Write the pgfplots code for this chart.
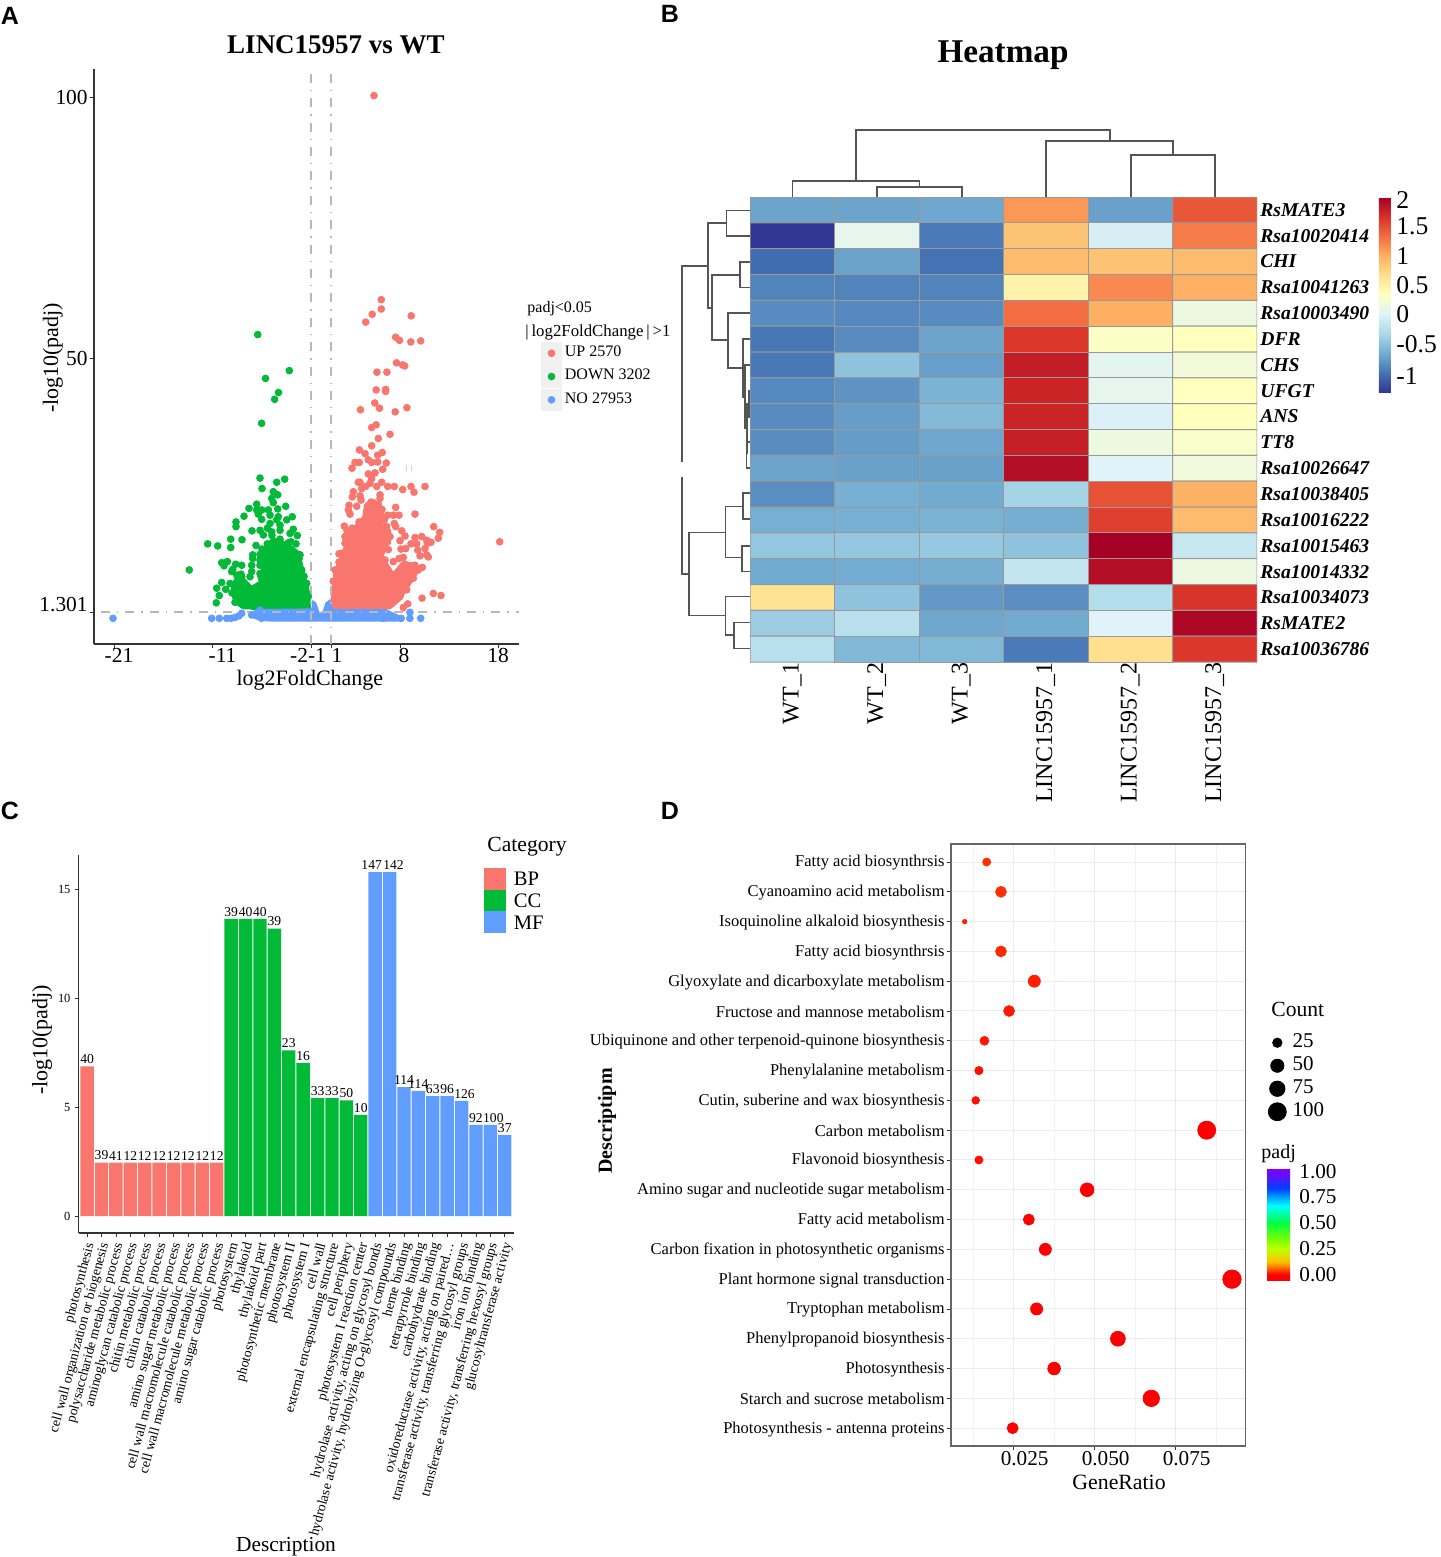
\documentclass[border=0pt]{standalone}
\usepackage{fontspec}
\usepackage{pgfplots}
\pgfplotsset{compat=1.18}
\setmainfont{Liberation Serif}
\newfontfamily\panelfont{Liberation Sans}
\newcommand{\fs}[1]{\fontsize{#1}{#1}\selectfont}
\definecolor{upred}{HTML}{F8766D}
\definecolor{downgreen}{HTML}{00BA38}
\definecolor{noblue}{HTML}{619CFF}
\definecolor{spine}{HTML}{333333}
\definecolor{refline}{HTML}{B8B8B8}
\definecolor{dend}{HTML}{555555}
\pgfplotsset{
  /pgf/number format/assume math mode=true,
  every axis/.append style={scale only axis},
  cleanaxis/.style={
    axis x line=bottom, axis y line=left,
    axis line style={-,spine,line width=0.6pt},
    tick style={spine,line width=0.4pt},
    tick align=outside, major tick length=2pt,
  },
  legendbox/.style={
    legend cell align=left,
    legend style={draw=none,fill=none,inner sep=0pt,outer sep=0pt,row sep=0pt,
      /tikz/every even column/.style={column sep=0pt},
      nodes={inner ysep=0pt,inner xsep=1.5pt,text height=7pt,text depth=#1}},
  },
  refdash/.style={refline,line width=1pt,dash pattern=on 4.5pt off 3.5pt on 0.7pt off 3.5pt,forget plot},
}
\newcommand{\seg}[1]{\addplot[dend,line width=0.7pt,forget plot] coordinates {#1};}
\newcommand{\keydot}[1]{\addlegendimage{legend image code/.code={\fill[gray!12] (0pt,-5pt) rectangle (10pt,5.75pt);\fill[#1] (5pt,0.4pt) circle (1.7pt);}}}
\newcommand{\keysq}[1]{\addlegendimage{legend image code/.code={\fill[#1] (0pt,-5.25pt) rectangle (10.5pt,5.25pt);}}}
\newcommand{\keysize}[1]{\addlegendimage{legend image code/.code={\fill[black] (5pt,0pt) circle (#1pt);}}}
\begin{document}
\begin{tikzpicture}
\useasboundingbox (0pt,0pt) rectangle (720pt,-778.5pt);

% page sized helper axis, one unit is one pixel of the reference
\begin{axis}[at={(0pt,-778.5pt)},anchor=south west,width=720pt,height=778.5pt,
  xmin=0,xmax=1440,ymin=0,ymax=1557,y dir=reverse,hide axis,clip=false]
  % column tree
  \seg{(792.4,197)(792.4,181)(919.6,181)(919.6,187)}
  \seg{(877,197)(877,187)(962,187)(962,197)}
  \seg{(856,181)(856,130)(1110,130)(1110,141)}
  \seg{(1046,197)(1046,141)(1173,141)(1173,155)}
  \seg{(1131,197)(1131,155)(1215,155)(1215,197)}
  % row tree
  \seg{(708,266)(682,266)(682,462)}
  \seg{(682,477)(682,574)(689,574)}
  \seg{(726.5,223)(708,223)(708,308)(712,308)}
  \seg{(750,210.7)(726.5,210.7)(726.5,236)(750,236)}
  \seg{(740,275)(712,275)(712,340)(728,340)}
  \seg{(750,262)(740,262)(740,287.5)(750,287.5)}
  \seg{(750,313)(728,313)(728,368)(743,368)}
  \seg{(750,339)(743,339)(743,397)(745,397)}
  \seg{(750,365)(745,365)(745,428)(747,428)}
  \seg{(749,404)(747,404)(747,453)(746.5,453)}
  \seg{(750,391)(749,391)(749,417)(750,417)}
  \seg{(750,442)(746.5,442)(746.5,468)(750,468)}
  \seg{(725.5,532.7)(689,532.7)(689,615.7)(725.5,615.7)}
  \seg{(743,506.7)(725.5,506.7)(725.5,557.7)(742,557.7)}
  \seg{(750,493)(743,493)(743,519)(750,519)}
  \seg{(750,546)(742,546)(742,571.7)(750,571.7)}
  \seg{(750,596.7)(725.5,596.7)(725.5,635)(734,635)}
  \seg{(750,622.7)(734,622.7)(734,648.7)(750,648.7)}
  % panel letters and free text
  \node[font=\panelfont\bfseries\fs{12.5}] at (10,16) {A};
  \node[font=\panelfont\bfseries\fs{12.5}] at (670,14) {B};
  \node[font=\panelfont\bfseries\fs{12.5}] at (10,811) {C};
  \node[font=\panelfont\bfseries\fs{12.5}] at (670,811) {D};
  \node[font=\bfseries\fs{13.5}] at (336,45) {LINC15957 vs WT};
  \node[font=\bfseries\fs{16.6}] at (1003,55) {Heatmap};
  \node[font=\fs{8},anchor=west,inner sep=0pt] at (527,309) {padj<0.05};
  \node[font=\fs{8.4},anchor=west,inner sep=0pt] at (525,332) {|\,log2FoldChange\,|\,>1};
  \node[font=\fs{10.8},anchor=west,inner sep=0pt] at (487,847) {Category};
  \node[font=\fs{10.8},anchor=west,inner sep=0pt] at (1271,1009) {Count};
  \node[font=\fs{10},anchor=west,inner sep=0pt] at (1261,1154) {padj};
\end{axis}

% A: volcano plot
\begin{axis}[cleanaxis,legendbox=4.4pt,at={(47pt,-322pt)},anchor=south west,
  width=212.5pt,height=287.5pt,
  xmin=-22.7,xmax=19.8,ymin=-4.79,ymax=105.4,
  xtick={-20.7,-10.85,1,7.9,17.7},
  xticklabels={-21\hspace*{1pt},\hspace*{4pt}-11,1,8\hspace*{2pt},18\hspace*{6pt}},
  extra x ticks={-1},extra x tick labels={-2-1},
  extra x tick style={xticklabel style={xshift=-4.5pt}},
  ytick={1.301,50,100},yticklabels={\raisebox{8pt}{1.301},50,100},
  tick label style={font=\fs{10.7}},
  yticklabel style={inner xsep=1pt},
  xticklabel style={xshift=3pt,yshift=3.5pt},
  xlabel={log2FoldChange},ylabel={-log10(padj)},
  label style={font=\fs{11}},
  xlabel style={at={(axis description cs:0.508,-0.0635)},anchor=center},
  ylabel style={at={(axis description cs:-0.0965,0.4974)},anchor=center},
  legend style={at={(1.052,0.525)},anchor=north west,font=\fs{8}},
]
  \addplot[fill=downgreen,draw=downgreen,line width=1pt,forget plot] coordinates {
    (-1.1,1.85)(-1.17,4.92)(-1.6,8.11)(-1.93,10.66)(-2.27,12.9)(-2.93,13.86)(-3.77,14.81)(-4.77,15.45)(-5.6,14.18)
    (-5.6,10.66)(-6.27,8.11)(-6.1,7.15)(-6.93,6.19)(-7.6,7.47)(-8.43,8.11)(-8.93,6.51)(-8.77,3.96)(-8.27,2.68)(-7.77,2.04)} -- cycle;
  \addplot[fill=upred,draw=upred,line width=1pt,forget plot] coordinates {
    (1.0,2.04)(1.13,5.56)(1.33,8.75)(1.9,11.6)(2.4,13.9)(2.47,16.4)(3.4,17.7)(4.23,19.6)(4.4,21.8)(5.9,22.0)(6.23,20.2)
    (6.07,18.3)(6.9,17.0)(6.9,14.5)(6.4,13.9)(6.07,12.6)(6.57,10.7)(7.23,8.75)(8.07,10.7)(9.07,10.7)(9.9,10.0)(9.4,8.1)
    (8.73,6.2)(7.9,3.64)(6.9,2.04)} -- cycle;
  \addplot[only marks,mark=*,mark size=1.7pt,color=downgreen,forget plot] coordinates {
    (-6.33,54.5)(-3.17,47.6)(-5.55,46.1)(-4.25,43.4)(-4.64,42.1)(-5.94,37.5)
    (-6.1,27.0)(-3.63,26.8)(-4.43,26.2)(-5.9,25.0)(-4.77,24.4)(-4.33,23.8)(-4.93,23.1)(-4.77,22.3)(-6.43,22.0)(-7.2,21.2)
    (-3.53,21.6)(-5.93,20.9)(-5.27,20.9)(-6.43,20.9)(-4.33,21.1)(-6.27,20.1)(-7.7,19.7)(-5.1,19.9)(-2.87,19.6)(-5.93,19.1)
    (-4.27,19.6)(-4.43,19.0)(-3.43,19.0)(-8.5,18.6)(-8.5,17.7)(-5.1,18.3)(-4.1,18.0)(-5.37,17.4)(-6.9,16.9)(-6.1,17.0)
    (-2.77,17.2)(-4.93,16.7)(-4.1,17.0)(-5.77,16.1)(-3.1,16.4)(-2.37,16.0)(-9.03,15.3)(-7.9,15.2)(-11.33,14.4)(-10.33,14.0)
    (-9.03,13.7)(-6.5,14.1)(-2.5,14.4)(-6.83,12.3)(-6.1,12.4)(-6.83,11.6)(-6.1,11.3)(-2.1,12.3)(-9.93,10.8)(-9.37,11.0)
    (-9.7,10.2)(-8.53,10.5)(-7.93,10.3)(-6.93,10.3)(-6.1,10.3)(-8.83,9.5)(-13.17,9.4)(-8.93,9.1)(-6.93,9.1)(-9.93,7.0)
    (-10.43,5.9)(-9.53,5.7)(-10.17,4.5)(-10.47,3.1)(-8.43,8.4)(-7.93,8.1)(-6.1,8.7)(-7.1,8.1)(-7.5,2.7)(-6.77,2.4)(-9.1,6.8)
    (-2.6,12.6)(-1.93,9.4)(-1.43,6.8)(-1.27,4.3)(-3.27,14.6)(-4.1,15.3)(-5.37,14.4)(-5.6,12.3)(-5.9,13.4)(-5.8,11.0)
    (-2.2,11.5)(-1.7,8.2)(-3.0,14.8)(-4.9,16.0)(-8.9,5.0)(-8.6,3.2)(-8.0,8.6)
  };
  \addplot[only marks,mark=*,mark size=1.7pt,color=upred,forget plot] coordinates {
    (5.3,100.3)(6.03,61.2)(6.03,59.4)(5.12,58.4)(9.02,58.1)(4.47,56.9)(7.46,54.0)(7.85,53.4)(8.98,53.1)(9.97,53.3)
    (7.55,49.1)(8.15,48.7)(8.37,48.5)(5.59,47.3)(6.59,47.3)(5.51,43.9)(6.46,44.0)(6.46,43.6)(5.38,41.4)(5.85,40.4)
    (3.95,40.1)(7.42,39.7)(8.59,40.5)(5.51,37.2)(5.07,36.7)
    (5.73,34.6)(6.9,35.4)(5.07,33.2)(3.83,32.4)(4.4,31.7)(6.13,31.9)(5.67,31.4)(4.73,30.5)(3.83,30.0)(3.4,30.0)(5.67,30.1)
    (5.07,30.0)(6.53,29.9)(3.1,28.9)(6.17,28.7)(4.73,27.8)(5.4,28.0)(5.07,26.9)(3.9,26.2)(3.73,26.2)(6.07,26.2)(4.9,26.0)
    (4.47,25.4)(4.07,25.0)(5.57,25.4)(6.67,25.4)(7.33,25.4)(10.4,25.4)(8.17,24.8)(9.0,25.4)(9.3,24.3)(3.23,24.4)(3.13,23.4)
    (3.9,23.6)(5.9,23.8)(5.9,23.1)(4.0,22.8)(2.8,21.8)(3.57,21.6)(2.73,20.9)(7.47,21.4)(9.4,20.1)(2.9,20.1)(6.67,19.9)
    (7.23,19.9)(7.8,19.9)(7.33,18.3)(7.47,17.7)(2.33,17.8)(11.27,17.7)(8.07,16.9)(11.87,16.6)(8.4,15.9)(11.73,15.5)(10.07,15.8)
    (9.4,15.6)(10.57,15.1)(11.0,14.7)(7.9,15.0)(10.63,14.5)(9.0,14.4)(9.57,14.4)(10.4,13.5)(8.0,13.4)(8.47,13.5)(9.67,13.2)
    (1.8,12.5)(6.73,13.3)(10.57,12.3)(9.9,12.1)(10.73,11.9)(7.8,11.6)(8.23,11.8)(7.23,11.0)(1.8,10.9)(10.13,9.9)
    (11.23,4.9)(12.0,4.5)(10.1,4.0)(8.67,2.9)(8.23,2.2)(17.87,14.8)
    (2.4,15.8)(2.47,15.5)(3.73,17.7)(4.57,20.6)(4.73,21.8)(5.23,22.3)(5.73,22.0)(6.33,19.0)(6.57,17.7)(6.9,15.8)(5.4,19.9)
    (9.73,9.4)(9.23,7.8)(8.57,5.6)(7.9,4.3)(9.4,10.3)(8.4,10.5)(1.4,9.4)(1.23,7.2)(2.07,12.6)(2.73,14.2)(2.4,14.5)(6.07,12.9)(6.4,11.3)
    (3.1,17.4)(2.6,17.0)(3.8,18.6)(5.0,22.4)(6.1,21.0)
  };
  \addplot[noblue!40,line width=0.4pt,forget plot] coordinates {(8.55,28.2)(8.55,29.6)};
  \addplot[upred!40,line width=0.4pt,forget plot] coordinates {(9.0,28.2)(9.0,29.6)};
  \addplot[fill=noblue,draw=noblue,line width=1pt,forget plot] coordinates {
    (-6.94,1.09)(-6.29,1.72)(-0.87,1.85)(-0.78,3.32)(-0.56,3.0)(-0.22,1.09)(0.22,1.09)(0.52,3.0)(0.87,3.51)(1.08,1.72)
    (6.5,1.72)(7.81,0.45)(8.02,-0.32)(-4.77,-0.32)(-6.07,-0.19)(-6.94,0.45)} -- cycle;
  \addplot[only marks,mark=*,mark size=1.7pt,color=noblue,forget plot] coordinates {
    (-20.8,0.13)(-10.93,0.13)(-10.17,0.13)(-9.43,0.13)(-9.0,0.13)(-8.6,0.3)(-8.2,0.6)(-7.93,1.1)(-6.93,0.77)(-6.43,1.09)
    (-6.1,1.7)(-5.94,0.13)(8.89,1.28)(8.89,0.13)(9.97,0.13)(8.02,0.13)(7.46,0.3)(6.2,0.13)
  };
  \addplot[refdash] coordinates {(-22,1.301)(19.8,1.301)};
  \addplot[refdash] coordinates {(-1,-4.79)(-1,105.4)};
  \addplot[refdash] coordinates {(1,-4.79)(1,105.4)};
  \keydot{upred}\addlegendentry{UP 2570}
  \keydot{downgreen}\addlegendentry{DOWN 3202}
  \keydot{noblue}\addlegendentry{NO 27953}
\end{axis}

% B: heatmap
\begin{axis}[at={(375pt,-331pt)},anchor=south west,width=253.5pt,height=232.5pt,
  xmin=-0.5,xmax=5.5,ymin=-0.5,ymax=17.5,y dir=reverse,
  axis line style={draw=none},major tick length=0pt,
  xtick={0,...,5},xticklabels={WT\_1,WT\_2,WT\_3,LINC15957\_1,LINC15957\_2,LINC15957\_3},
  xticklabel style={rotate=90,anchor=east,font=\fs{12},inner xsep=1pt,xshift=0.8pt},
  ytick={0,...,17},yticklabel pos=right,
  yticklabels={RsMATE3,Rsa10020414,CHI,Rsa10041263,Rsa10003490,DFR,CHS,UFGT,ANS,TT8,Rsa10026647,Rsa10038405,Rsa10016222,Rsa10015463,Rsa10014332,Rsa10034073,RsMATE2,Rsa10036786},
  yticklabel style={font=\bfseries\itshape\fs{9.8},inner xsep=1.5pt},
  colormap={rdylbu}{rgb255(0cm)=(49,54,149);rgb255(1cm)=(69,117,180);rgb255(2cm)=(116,173,209);rgb255(3cm)=(171,217,233);
    rgb255(4cm)=(224,243,248);rgb255(5cm)=(255,255,191);rgb255(6cm)=(254,224,144);rgb255(7cm)=(253,174,97);
    rgb255(8cm)=(244,109,67);rgb255(9cm)=(215,48,39);rgb255(10cm)=(165,0,38)},
  point meta min=-1.27,point meta max=2.1,
  colorbar,
  colorbar style={at={(1.2406,1)},anchor=north west,width=6pt,height=97.5pt,
    axis line style={draw=none},major tick length=0pt,
    ytick={-0.99,-0.44,0.08,0.58,1.08,1.6,2.05},yticklabels={-1,-0.5,0,0.5,1,1.5,2},
    yticklabel style={font=\fs{12.8},inner xsep=2.5pt}},
]
  \addplot[matrix plot*,draw=gray!80,line width=0.5pt,mesh/cols=6,point meta=explicit]
  table[x=c,y=r,meta=v,row sep=\\] {
    c r v\\
    0 0 -0.65\\ 1 0 -0.65\\ 2 0 -0.63\\ 3 0 1.20\\ 4 0 -0.67\\ 5 0 1.55\\
    0 1 -1.27\\ 1 1 0.15\\ 2 1 -0.90\\ 3 1 0.95\\ 4 1 0.02\\ 5 1 1.35\\
    0 2 -0.98\\ 1 2 -0.66\\ 2 2 -0.95\\ 3 2 1.00\\ 4 2 0.95\\ 5 2 1.00\\
    0 3 -0.84\\ 1 3 -0.84\\ 2 3 -0.84\\ 3 3 0.55\\ 4 3 1.28\\ 5 3 1.07\\
    0 4 -0.80\\ 1 4 -0.81\\ 2 4 -0.80\\ 3 4 1.42\\ 4 4 1.08\\ 5 4 0.22\\
    0 5 -0.92\\ 1 5 -0.80\\ 2 5 -0.65\\ 3 5 1.72\\ 4 5 0.38\\ 5 5 0.42\\
    0 6 -0.91\\ 1 6 -0.43\\ 2 6 -0.68\\ 3 6 1.90\\ 4 6 0.12\\ 5 6 0.26\\
    0 7 -0.81\\ 1 7 -0.75\\ 2 7 -0.55\\ 3 7 1.85\\ 4 7 0.14\\ 5 7 0.42\\
    0 8 -0.80\\ 1 8 -0.69\\ 2 8 -0.50\\ 3 8 1.85\\ 4 8 0.05\\ 5 8 0.42\\
    0 9 -0.79\\ 1 9 -0.70\\ 2 9 -0.63\\ 3 9 1.88\\ 4 9 0.22\\ 5 9 0.35\\
    0 10 -0.65\\ 1 10 -0.67\\ 2 10 -0.67\\ 3 10 2.00\\ 4 10 0.08\\ 5 10 0.25\\
    0 11 -0.78\\ 1 11 -0.57\\ 2 11 -0.61\\ 3 11 -0.30\\ 4 11 1.58\\ 5 11 1.07\\
    0 12 -0.58\\ 1 12 -0.57\\ 2 12 -0.56\\ 3 12 -0.59\\ 4 12 1.68\\ 5 12 1.00\\
    0 13 -0.40\\ 1 13 -0.40\\ 2 13 -0.39\\ 3 13 -0.43\\ 4 13 2.10\\ 5 13 -0.08\\
    0 14 -0.61\\ 1 14 -0.60\\ 2 14 -0.59\\ 3 14 -0.12\\ 4 14 2.00\\ 5 14 0.22\\
    0 15 0.72\\ 1 15 -0.43\\ 2 15 -0.72\\ 3 15 -0.78\\ 4 15 -0.20\\ 5 15 1.74\\
    0 16 -0.35\\ 1 16 -0.18\\ 2 16 -0.63\\ 3 16 -0.61\\ 4 16 0.08\\ 5 16 2.05\\
    0 17 -0.18\\ 1 17 -0.51\\ 2 17 -0.51\\ 3 17 -0.90\\ 4 17 0.75\\ 5 17 1.72\\
  };
\end{axis}

% C: GO enrichment bars
\begin{axis}[cleanaxis,legendbox=3.25pt,at={(39.25pt,-616.5pt)},anchor=south west,
  width=217.75pt,height=189pt,
  xmin=0.4,xmax=30.64,ymin=-0.78,ymax=16.56,
  ybar,bar width=6.7pt,
  ytick={0,5,10,15},yticklabel style={font=\fs{6.2},xshift=1.5pt},
  xtick={1,...,30},
  xticklabels={photosynthesis,cell wall organization or biogenesis,polysaccharide metabolic process,aminoglycan catabolic process,chitin metabolic process,chitin catabolic process,amino sugar metabolic process,cell wall macromolecule catabolic process,cell wall macromolecule metabolic process,amino sugar catabolic process,photosystem,thylakoid,thylakoid part,photosynthetic membrane,photosystem II,photosystem I,cell wall,external encapsulating structure,cell periphery,photosystem I reaction center,{hydrolase activity, acting on glycosyl bonds},{hydrolase activity, hydrolyzing O-glycosyl compounds},heme binding,tetrapyrrole binding,carbohydrate binding,{oxidoreductase activity, acting on paired\ldots},{transferase activity, transferring glycosyl groups},iron ion binding,{transferase activity, transferring hexosyl groups},glucosyltransferase activity},
  xticklabel style={rotate=75,anchor=east,font=\fs{6.9},inner sep=1pt,xshift=-1.4pt,yshift=-2.5pt},
  ylabel={-log10(padj)},
  ylabel style={font=\fs{11},at={(axis description cs:-0.0838,0.5106)},anchor=center},
  nodes near coords,point meta=explicit symbolic,
  nodes near coords style={font=\fs{6.8},inner sep=0.6pt,anchor=south,yshift=0.5pt},
  legend style={at={(0.931,0.966)},anchor=north west,font=\fs{10.3}},
]
  \addplot[bar shift=0pt,fill=upred,draw=none,forget plot] table[x=x,y=y,meta=n] {
    x y n
    1 6.86 40
    2 2.45 39
    3 2.45 41
    4 2.45 12
    5 2.45 12
    6 2.45 12
    7 2.45 12
    8 2.45 12
    9 2.45 12
    10 2.45 12
  };
  \addplot[bar shift=0pt,fill=downgreen,draw=none,forget plot] table[x=x,y=y,meta=n] {
    x y n
    11 13.63 39
    12 13.63 40
    13 13.63 40
    14 13.18 39
    15 7.60 23
    16 7.03 16
    17 5.41 33
    18 5.41 33
    19 5.30 50
    20 4.64 10
  };
  \addplot[bar shift=0pt,fill=noblue,draw=none,forget plot] table[x=x,y=y,meta=n] {
    x y n
    21 15.77 147\kern3.5pt
    22 15.77 \kern4pt{}142
    23 5.91 114
    24 5.74 114
    25 5.50 63
    26 5.50 96
    27 5.28 \kern3pt{}126
    28 4.18 92
    29 4.18 \kern3pt{}100
    30 3.72 37
  };
  \keysq{upred}\addlegendentry{\hspace{2.5pt}\raisebox{-1.5pt}{BP}}
  \keysq{downgreen}\addlegendentry{\hspace{2.5pt}\raisebox{-1.5pt}{CC}}
  \keysq{noblue}\addlegendentry{\hspace{2.5pt}\raisebox{-1.5pt}{MF}}
\end{axis}
\node[font=\fs{10.7}] at (143pt,-773.5pt) {Description};

% D: KEGG dot plot
\begin{axis}[legendbox=4.5pt,at={(475.5pt,-723pt)},anchor=south west,width=147.4pt,height=301pt,
  xmin=0.00568,xmax=0.09667,ymin=0.396,ymax=20.6,y dir=reverse,
  axis line style={gray!80!black,line width=0.6pt},
  tick style={spine,line width=0.4pt},tick align=outside,major tick length=2pt,minor tick length=0pt,
  xtick={0.025,0.05,0.075},xticklabels={0.025,0.050,0.075},scaled x ticks=false,
  minor xtick={0.0125,0.0375,0.0625,0.0875},
  xticklabel style={font=\fs{10.6},xshift=5.5pt,yshift=3pt},
  ytick={1,...,20},xtick pos=lower,ytick pos=left,
  yticklabels={Fatty acid biosynthrsis,Cyanoamino acid metabolism,Isoquinoline alkaloid biosynthesis,Fatty acid biosynthrsis,Glyoxylate and dicarboxylate metabolism,Fructose and mannose metabolism,Ubiquinone and other terpenoid-quinone biosynthesis,Phenylalanine metabolism,{Cutin, suberine and wax biosynthesis},Carbon metabolism,Flavonoid biosynthesis,Amino sugar and nucleotide sugar metabolism,Fatty acid metabolism,Carbon fixation in photosynthetic organisms,Plant hormone signal transduction,Tryptophan metabolism,Phenylpropanoid biosynthesis,Photosynthesis,Starch and sucrose metabolism,Photosynthesis - antenna proteins},
  yticklabel style={font=\fs{8.25},inner xsep=1pt,yshift=-0.5pt},
  grid=both,major grid style={gray!15,line width=0.5pt},minor grid style={gray!10,line width=0.3pt},
  xlabel={GeneRatio},
  xlabel style={font=\fs{10.9},at={(axis description cs:0.57,-0.0598)},anchor=center},
  colormap={rainbowpadj}{rgb255(0cm)=(255,0,0);rgb255(0.5cm)=(255,0,0);rgb255(1.75cm)=(255,191,0);rgb255(3cm)=(191,255,0);rgb255(3.83cm)=(128,255,0);
    rgb255(5.5cm)=(0,255,64);rgb255(7.17cm)=(0,255,255);rgb255(8cm)=(0,159,255);rgb255(8.83cm)=(0,64,255);rgb255(10.5cm)=(128,0,255);rgb255(10.8cm)=(128,0,255)},
  point meta min=-0.05,point meta max=1.03,
  colorbar,
  colorbar style={at={(1.072,0.4618)},anchor=north west,width=11.5pt,height=56pt,
    axis line style={draw=none},major tick length=0pt,
    ytick={0,0.25,0.5,0.75,1},yticklabels={0.00,0.25,0.50,0.75,1.00},
    yticklabel style={font=\fs{10.6},inner xsep=4.5pt}},
  legend style={at={(1.075,0.689)},anchor=north west,font=\fs{10.5}},
]
  \addplot[scatter,only marks,mark=*,forget plot,point meta=explicit,
    scatter/use mapped color={draw=mapped color,fill=mapped color},
    visualization depends on={\thisrow{s} \as \dotsize},
    scatter/@pre marker code/.append style={/tikz/mark size=\dotsize}]
  table[x=g,y=i,meta=p] {
    i g s p
    1 0.0167 2.0 0.03
    2 0.0211 2.7 0.03
    3 0.0099 1.1 0.02
    4 0.0211 2.7 0.025
    5 0.0314 3.0 0.02
    6 0.0236 2.7 0.015
    7 0.0160 2.2 0.015
    8 0.0143 2.05 0.01
    9 0.0133 1.9 0.01
    10 0.0846 4.5 0.00
    11 0.0143 2.0 0.01
    12 0.0477 3.4 0.00
    13 0.0297 2.75 0.00
    14 0.0348 3.0 0.00
    15 0.0924 4.6 0.00
    16 0.0321 3.0 0.00
    17 0.0572 3.7 0.00
    18 0.0375 3.15 0.00
    19 0.0675 4.1 0.00
    20 0.0247 2.75 0.00
  };
  \keysize{2.35}\addlegendentry{\hspace{1.5pt}\raisebox{-1pt}{25}}
  \keysize{3.3}\addlegendentry{\hspace{1.5pt}\raisebox{-1pt}{50}}
  \keysize{3.85}\addlegendentry{\hspace{1.5pt}\raisebox{-1pt}{75}}
  \keysize{4.5}\addlegendentry{\hspace{1.5pt}\raisebox{-1pt}{100}}
\end{axis}
\node[font=\bfseries\fs{10},rotate=90] at (303.5pt,-560.5pt) {Descriptipm};
\end{tikzpicture}
\end{document}
